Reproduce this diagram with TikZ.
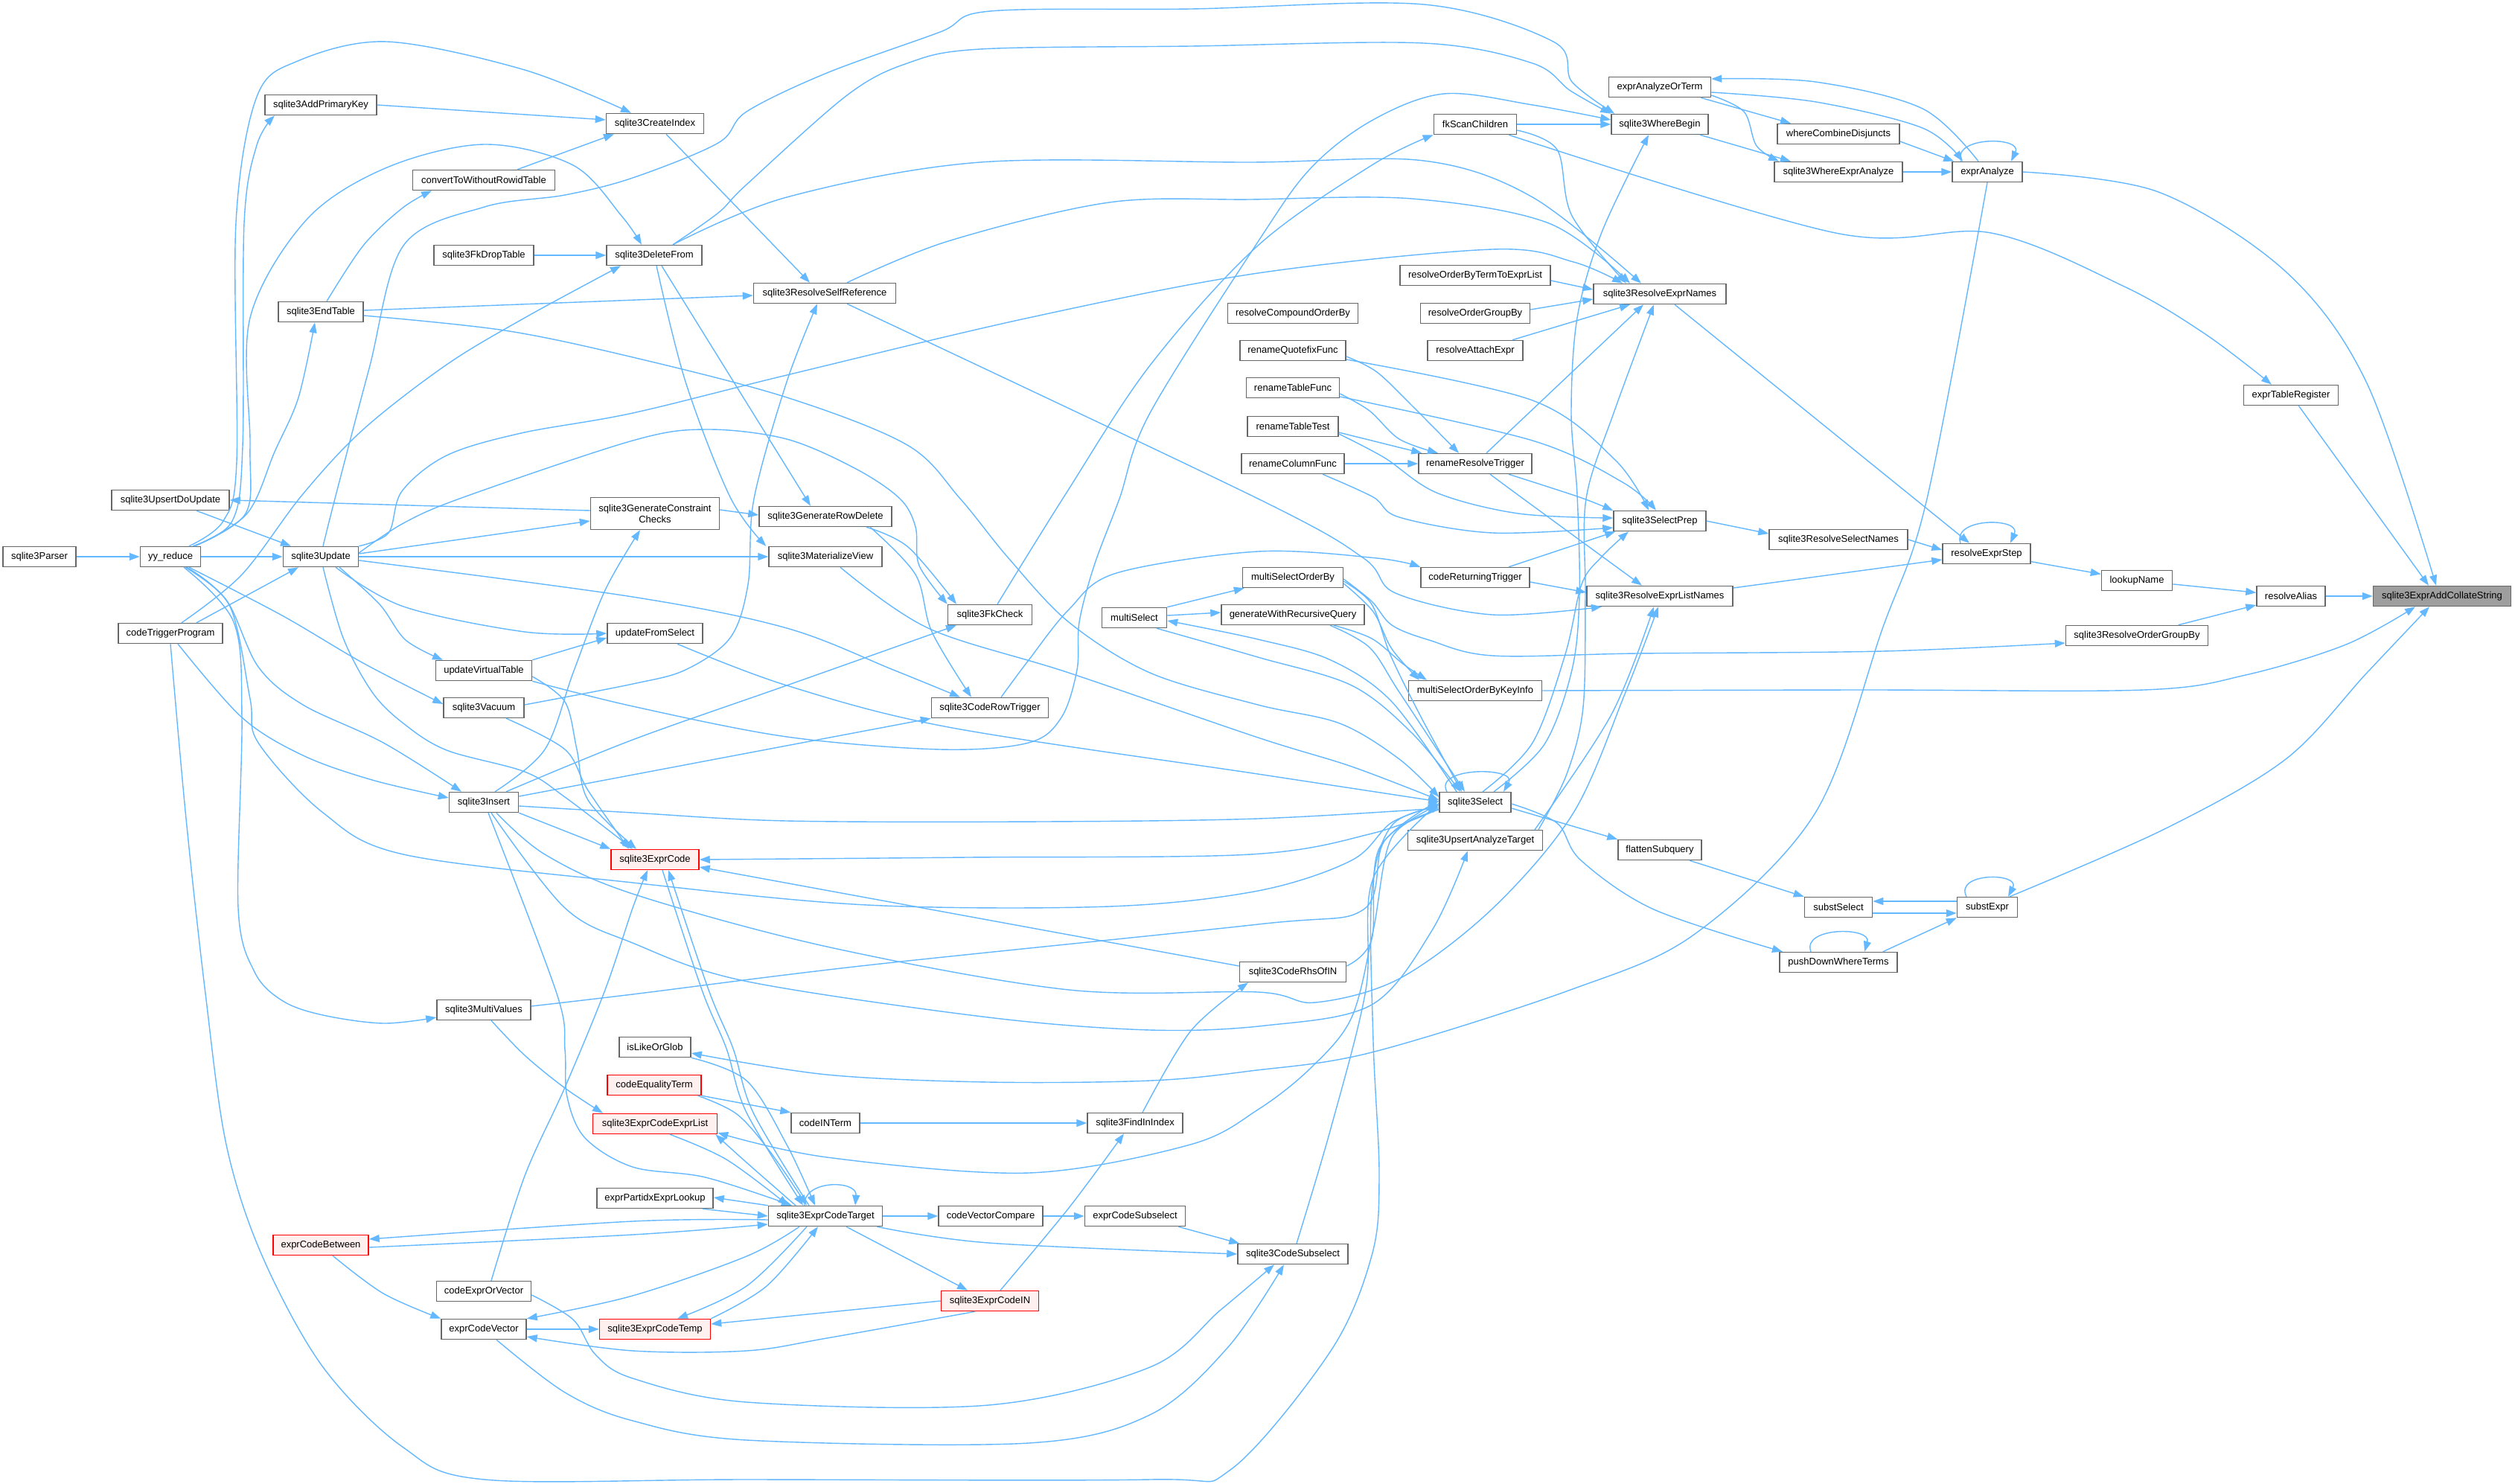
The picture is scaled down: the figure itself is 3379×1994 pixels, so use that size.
\documentclass[tikz,border=0pt]{standalone}
\usepackage{fontspec}
\setmainfont{Liberation Sans}
\usetikzlibrary{arrows.meta}
\definecolor{edgeblue}{HTML}{63B8FF}
\definecolor{boxgray}{HTML}{666666}
\newcommand\mknode[6][box]{\node[#1,minimum width=#5pt] (#2) at (#3,#4) {#6};}
\newcommand\ED[1]{\draw[edg] plot[smooth,tension=0.55] coordinates {#1};}
\tikzset{
 box/.style={draw=boxgray,fill=white,line width=1.5pt,minimum height=27pt,inner sep=0pt,font=\fontsize{13}{15}\selectfont,text=black},
 redbox/.style={box,draw=red,fill=red!6},
 rootbox/.style={box,fill=black!38},
 edg/.style={draw=edgeblue,line width=1.4pt,-{Triangle[length=14pt,width=10pt]}},
}
\begin{document}
\begin{tikzpicture}[x=1pt,y=-1pt]
\fill[white] (0,0) rectangle (3379,1994);
\useasboundingbox (0,0) rectangle (3379,1994);
% ---------------- nodes ----------------
\mknode[rootbox]{root}{3281}{801}{185}{sqlite3ExprAddCollateString}
\mknode{rA}{3078}{801}{92}{resolveAlias}
\mknode{lN}{2871}{780}{95}{lookupName}
\mknode{sROGB}{2871}{854}{191}{sqlite3ResolveOrderGroupBy}
\mknode{eTR}{3078}{531}{127}{exprTableRegister}
\mknode{eA}{2670}{231}{94}{exprAnalyze}
\mknode{rES}{2669}{744}{118}{resolveExprStep}
\mknode{sE}{2670}{1219}{81}{substExpr}
\mknode{eAOT}{2230}{117}{137}{exprAnalyzeOrTerm}
\mknode{wCD}{2470}{180}{164}{whereCombineDisjuncts}
\mknode{sWEA}{2470}{231}{172}{sqlite3WhereExprAnalyze}
\mknode{sWB}{2230}{167}{130}{sqlite3WhereBegin}
\mknode{fkSC}{1982}{167}{111}{fkScanChildren}
\mknode{sRE}{2230}{395}{178}{sqlite3ResolveExprNames}
\mknode{rOBT}{1982}{370}{202}{resolveOrderByTermToExprList}
\mknode{rCOB}{1737}{421}{175}{resolveCompoundOrderBy}
\mknode{rOGB}{1982}{421}{147}{resolveOrderGroupBy}
\mknode{rAE}{1982}{471}{128}{resolveAttachExpr}
\mknode{rQF}{1737}{471}{142}{renameQuotefixFunc}
\mknode{rTF}{1737}{521}{125}{renameTableFunc}
\mknode{rTT}{1737}{573}{122}{renameTableTest}
\mknode{rCF}{1737}{623}{138}{renameColumnFunc}
\mknode{rRT}{1982}{623}{152}{renameResolveTrigger}
\mknode{sSP}{2230}{700}{124}{sqlite3SelectPrep}
\mknode{sRSN}{2470}{725}{186}{sqlite3ResolveSelectNames}
\mknode{cRT}{1982}{776}{146}{codeReturningTrigger}
\mknode{sRELN}{2230}{801}{196}{sqlite3ResolveExprListNames}
\mknode{mSOB}{1737}{776}{135}{multiSelectOrderBy}
\mknode{gWRQ}{1737}{826}{192}{generateWithRecursiveQuery}
\mknode{mS}{1524}{830}{87}{multiSelect}
\mknode{mSOBKI}{1982}{928}{179}{multiSelectOrderByKeyInfo}
\mknode{sSel}{1982}{1078}{96}{sqlite3Select}
\mknode{sUAT}{1982}{1129}{181}{sqlite3UpsertAnalyzeTarget}
\mknode{fS}{2230}{1142}{112}{flattenSubquery}
\mknode{sSub}{2470}{1219}{91}{substSelect}
\mknode{pDWT}{2470}{1293}{158}{pushDownWhereTerms}
\mknode{sCRIN}{1737}{1306}{143}{sqlite3CodeRhsOfIN}
\mknode{sCI}{880}{166}{131}{sqlite3CreateIndex}
\mknode{sAPK}{431}{141}{150}{sqlite3AddPrimaryKey}
\mknode{cTWRT}{650}{242}{191}{convertToWithoutRowidTable}
\mknode{sFDT}{650}{343}{134}{sqlite3FkDropTable}
\mknode{sDF}{879}{343}{128}{sqlite3DeleteFrom}
\mknode{sET}{431}{419}{114}{sqlite3EndTable}
\mknode{sRSR}{1108}{394}{191}{sqlite3ResolveSelfReference}
\mknode{sUDU}{229}{672}{158}{sqlite3UpsertDoUpdate}
\mknode[box,minimum height=43pt,align=center]{sGCC}{880}{690}{173}{sqlite3GenerateConstraint\\Checks}
\mknode{sGRD}{1109}{694}{178}{sqlite3GenerateRowDelete}
\mknode{sMV}{1109}{748}{152}{sqlite3MaterializeView}
\mknode{sPar}{53}{748}{98}{sqlite3Parser}
\mknode{yy}{229}{748}{81}{yy\_reduce}
\mknode{sUpd}{431}{748}{101}{sqlite3Update}
\mknode{cTP}{229}{851}{140}{codeTriggerProgram}
\mknode{uFS}{880}{851}{128}{updateFromSelect}
\mknode{uVT}{650}{901}{129}{updateVirtualTable}
\mknode{sVac}{650}{951}{108}{sqlite3Vacuum}
\mknode{sFKC}{1330}{826}{113}{sqlite3FkCheck}
\mknode{sCRT}{1330}{951}{157}{sqlite3CodeRowTrigger}
\mknode{sIns}{650}{1078}{93}{sqlite3Insert}
\mknode[redbox]{sEC}{880}{1155}{118}{sqlite3ExprCode}
\mknode{sMVal}{650}{1357}{126}{sqlite3MultiValues}
\mknode{iLOG}{880}{1407}{96}{isLikeOrGlob}
\mknode[redbox]{cET}{879}{1458}{126}{codeEqualityTerm}
\mknode[redbox]{sECEL}{880}{1510}{167}{sqlite3ExprCodeExprList}
\mknode{cINT}{1109}{1509}{92}{codeINTerm}
\mknode{sFII}{1525}{1509}{128}{sqlite3FindInIndex}
\mknode{ePEL}{880}{1610}{156}{exprPartidxExprLookup}
\mknode{sECT}{1109}{1634}{153}{sqlite3ExprCodeTarget}
\mknode{cVC}{1331}{1634}{140}{codeVectorCompare}
\mknode{eCS}{1525}{1634}{135}{exprCodeSubselect}
\mknode{sCS}{1737}{1685}{148}{sqlite3CodeSubselect}
\mknode[redbox]{eCB}{431}{1673}{128}{exprCodeBetween}
\mknode{cEOV}{650}{1735}{127}{codeExprOrVector}
\mknode{eCV}{650}{1786}{114}{exprCodeVector}
\mknode[redbox]{sECTemp}{880}{1786}{149}{sqlite3ExprCodeTemp}
\mknode[redbox]{sECIN}{1330}{1748}{131}{sqlite3ExprCodeIN}
% ---------------- edges: root region ----------------
\draw[edg] (rA.east) -- (root.west);
\draw[edg] (lN) -- (rA);
\draw[edg] (sROGB) -- (rA);
\draw[edg] (rES) -- (lN);
\draw[edg] (eTR) -- ([shift={(-18,0)}]root.north);
\ED{(eA.east) (2900,258) (3071,365) (3180,515) ([shift={(-8,0)}]root.north)}
\ED{(mSOBKI.east) (2500,927) (2880,927) (3017,907) (3152,866) ([shift={(-36,0)}]root.south)}
\ED{([shift={(30,0)}]sE.north) (2908,1114) (3071,1020) (3180,904) ([shift={(-17,0)}]root.south)}
% exprAnalyze group
\ED{([shift={(0,7)}]eAOT.east) (2440,137) (2583,172) ([shift={(-33,0)}]eA.north)}
\ED{([shift={(-12,0)}]eA.north) (2583,146) (2439,110) ([shift={(0,-11)}]eAOT.east)}
\draw[edg] ([shift={(55,0)}]eAOT.south) -- ([shift={(-64,0)}]wCD.north);
\ED{([shift={(0,11)}]eAOT.east) (2343,150) (2360,196) ([shift={(-80,0)}]sWEA.north)}
\draw[edg] ([shift={(0,10)}]wCD.east) -- ([shift={(3,0)}]eA.north west);
\draw[edg] (sWEA) -- (eA);
\draw[edg] ([shift={(-35,0)}]eA.north) .. controls (2622,183) and (2718,183) .. ([shift={(32,0)}]eA.north);
\draw[edg] ([shift={(54,0)}]sWB.south) -- ([shift={(-64,0)}]sWEA.north);
\draw[edg] (fkSC) -- (sWB);
\ED{([shift={(0,8)}]fkSC.east) (2092,201) (2112,290) ([shift={(-45,0)}]sRE.north)}
\ED{([shift={(45,0)}]fkSC.south) (2466,313) (2675,313) (2854,385) (2963,449) ([shift={(-26,0)}]eTR.north)}
\ED{(eA.south) (2589,670) (2529,845) (2439,1092) (2277,1255) (2110,1330) (1843,1414) (1680,1439) (1545,1452) (1328,1454) (1111,1444) ([shift={(0,8)}]iLOG.east)}
% sqlite3ResolveExprNames callers
\draw[edg] ([shift={(0,7)}]rOBT.east) -- ([shift={(0,-6)}]sRE.west);
\draw[edg] ([shift={(0,-5)}]rOGB.east) -- ([shift={(0,7)}]sRE.west);
\draw[edg] ([shift={(50,0)}]rAE.north) -- ([shift={(-40,0)}]sRE.south);
\draw[edg] ([shift={(15,0)}]rRT.north) -- ([shift={(-22,0)}]sRE.south);
\ED{([shift={(85,0)}]sUAT.north) (2105,1040) (2127,950) (2130,800) (2131,670) (2168,555) ([shift={(-8,0)}]sRE.south)}
\ED{([shift={(25,0)}]sDF.north) (1057,265) (1317,218) (1680,218) (1913,216) (2059,265) ([shift={(-25,0)}]sRE.north)}
\ED{([shift={(30,0)}]sRSR.north) (1274,324) (1490,272) (1680,268) (1897,267) (2081,300) ([shift={(-40,0)}]sRE.north)}
\ED{(sUpd.north east) (522,716) (540,660) (600,612) (700,582) (850,555) (1057,504) (1382,427) (1690,367) (2005,335) (2114,352) ([shift={(-50,0)}]sRE.north)}
% select prep / expr list names
\draw[edg] (sSP.east) -- ([shift={(0,-8)}]sRSN.west);
\draw[edg] (sRSN.east) -- ([shift={(0,-5)}]rES.west);
\draw[edg] ([shift={(0,-11)}]sRELN.east) -- ([shift={(0,8)}]rES.west);
\draw[edg] ([shift={(20,0)}]sRE.south) -- ([shift={(-23,0)}]rES.north);
\draw[edg] ([shift={(-35,0)}]rES.north) .. controls (2622,695) and (2716,695) .. ([shift={(32,0)}]rES.north);
\draw[edg] ([shift={(45,0)}]cRT.north) -- ([shift={(3,0)}]sSP.south west);
\draw[edg] ([shift={(0,6)}]cRT.east) -- ([shift={(0,-5)}]sRELN.west);
\ED{([shift={(20,0)}]rRT.south) (2049,672) ([shift={(-24,0)}]sRELN.north)}
\ED{([shift={(45,0)}]rRT.south) (2122,668) ([shift={(0,-14)}]sSP.west)}
\ED{([shift={(0,12)}]rQF.east) (2059,538) (2170,618) ([shift={(-15,0)}]sSP.north)}
\ED{([shift={(0,12)}]rTF.east) (2059,592) (2180,648) ([shift={(-5,0)}]sSP.north)}
\ED{([shift={(0,10)}]rTT.east) (1860,615) (1930,662) (2040,690) ([shift={(0,-4)}]sSP.west)}
\ED{([shift={(40,0)}]rCF.south) (1845,668) (1880,695) (2005,716) ([shift={(0,9)}]sSP.west)}
\ED{([shift={(0,8)}]rQF.east) (1850,500) (1900,548) ([shift={(-22,0)}]rRT.north)}
\ED{([shift={(0,8)}]rTF.east) (1840,552) (1880,590) ([shift={(-50,0)}]rRT.north)}
\draw[edg] ([shift={(0,8)}]rTT.east) -- ([shift={(5,0)}]rRT.north west);
\draw[edg] (rCF) -- (rRT);
\ED{([shift={(30,0)}]sRSR.south) (1690,670) (1832,750) (1875,797) (2005,826) ([shift={(-78,0)}]sRELN.south)}
\ED{([shift={(80,0)}]sUAT.north) (2165,960) ([shift={(-8,0)}]sRELN.south)}
\ED{([shift={(17,0)}]sIns.south) (732,1148) (850,1201) (1111,1272) (1436,1330) (1690,1333) (1767,1347) (1880,1315) (2005,1221) (2114,1092) (2184,930) ([shift={(-2,0)}]sRELN.south)}
\ED{([shift={(10,0)}]sIns.south) (759,1220) (850,1267) (1000,1318) (1328,1367) (1545,1384) (1700,1378) (1843,1350) (1924,1250) ([shift={(-10,0)}]sUAT.south)}
% multiSelect group
\draw[edg] (mS.north east) -- ([shift={(3,0)}]mSOB.south west);
\draw[edg] ([shift={(0,-3)}]mS.east) -- ([shift={(0,-3)}]gWRQ.west);
\ED{([shift={(-25,0)}]sSel.north) (1870,943) (1788,887) (1690,859) ([shift={(0,4)}]mS.east)}
\ED{([shift={(30,0)}]mS.south) (1690,883) (1816,921) (1897,985) ([shift={(-20,0)}]sSel.north)}
\ED{([shift={(0,5)}]mSOB.east) (1843,812) (1868,880) (1910,965) ([shift={(-18,0)}]sSel.north)}
\ED{([shift={(50,0)}]gWRQ.south) (1840,870) (1880,930) ([shift={(-14,0)}]sSel.north)}
\ED{([shift={(0,8)}]mSOB.east) (1845,822) (1870,872) ([shift={(-75,0)}]mSOBKI.north)}
\ED{([shift={(55,0)}]gWRQ.south) (1843,858) (1885,892) ([shift={(-65,0)}]mSOBKI.north)}
\ED{([shift={(0,2)}]mSOB.east) (1843,808) (1870,840) (1920,860) (2005,881) (2200,878) (2529,875) ([shift={(0,10)}]sROGB.west)}
\draw[edg] ([shift={(-38,0)}]sSel.north) .. controls (1925,1030) and (2040,1030) .. ([shift={(38,0)}]sSel.north);
\draw[edg] ([shift={(0,8)}]sSel.east) -- (fS.north west);
\ED{([shift={(0,2)}]sSel.east) (2092,1106) (2124,1156) (2222,1222) ([shift={(-75,0)}]pDWT.north)}
\draw[edg] ([shift={(40,0)}]fS.south) -- (sSub.north west);
\draw[edg] ([shift={(0,-8)}]sE.west) -- ([shift={(0,-8)}]sSub.east);
\draw[edg] ([shift={(0,8)}]sSub.east) -- ([shift={(0,8)}]sE.west);
\draw[edg] ([shift={(-20,0)}]pDWT.north east) -- (sE.south west);
\draw[edg] ([shift={(-28,0)}]sE.north) .. controls (2625,1172) and (2715,1172) .. ([shift={(28,0)}]sE.north);
\draw[edg] ([shift={(-37,0)}]pDWT.north) .. controls (2420,1245) and (2515,1245) .. ([shift={(35,0)}]pDWT.north);
\ED{([shift={(10,0)}]sSel.north) (2059,998) (2103,879) (2125,785) (2152,748) ([shift={(-42,0)}]sSP.south)}
\ED{([shift={(25,0)}]sSel.north) (2075,1000) (2112,900) (2122,800) (2119,665) (2111,555) (2119,427) (2152,312) ([shift={(-15,0)}]sWB.south)}
% left top group
\draw[edg] (sPar) -- (yy);
\draw[edg] (yy) -- (sUpd);
\ED{([shift={(25,0)}]yy.north) (300,700) (318,620) (317,299) (345,130) (400,82) (520,56) (705,94) ([shift={(-32,0)}]sCI.north)}
\ED{([shift={(30,0)}]yy.north) (312,700) (326,600) (328,300) (345,195) ([shift={(-62,0)}]sAPK.south)}
\ED{([shift={(33,0)}]yy.north) (332,690) (369,607) (401,534) ([shift={(-8,0)}]sET.south)}
\ED{([shift={(32,0)}]yy.north) (330,690) (336,600) (336,427) (412,295) (520,225) (651,194) (770,222) (835,290) ([shift={(-17,0)}]sDF.north)}
\ED{([shift={(15,0)}]cTP.north) (325,772) (406,665) (488,577) (600,490) (705,427) ([shift={(-45,0)}]sDF.south)}
\draw[edg] ([shift={(35,0)}]cTP.north) -- ([shift={(-30,0)}]sUpd.south);
\ED{([shift={(10,0)}]cTP.south) (325,964) (407,1015) (500,1048) ([shift={(0,-6)}]sIns.west)}
\ED{(cTP.south) (250,1100) (276,1335) (304,1538) (352,1687) (434,1837) (542,1945) (651,1988) (1000,1988) (1545,1988) (1653,1975) (1788,1815) (1843,1687) (1853,1580) (1845,1400) (1843,1200) (1870,1109) ([shift={(0,6)}]sSel.west)}
\draw[edg] (sAPK.east) -- ([shift={(0,-5)}]sCI.west);
\draw[edg] ([shift={(45,0)}]cTWRT.north) -- ([shift={(-55,0)}]sCI.south);
\ED{([shift={(8,0)}]sET.north) (488,330) (540,280) ([shift={(-70,0)}]cTWRT.south)}
\draw[edg] (sFDT) -- (sDF);
\draw[edg] ([shift={(0,-2)}]sET.east) -- ([shift={(0,3)}]sRSR.west);
\ED{([shift={(0,5)}]sET.east) (678,444) (850,480) (1057,534) (1219,598) (1290,670) (1355,750) (1436,836) (1545,904) (1690,947) (1800,972) (1880,1020) ([shift={(0,-7)}]sSel.west)}
\draw[edg] ([shift={(15,0)}]sCI.south) -- ([shift={(-20,0)}]sRSR.north);
\ED{([shift={(25,0)}]sDF.north) (965,286) (1003,248) (1138,128) (1219,85) (1317,66) (1600,62) (1913,58) (2059,85) (2110,122) (sWB.north west)}
\ED{([shift={(3,0)}]sUpd.north) (450,670) (496,495) (542,330) (651,278) (759,262) (850,239) (965,192) (1003,150) (1111,98) (1263,43) (1330,15) (1600,12) (1913,6) (2087,56) (2112,110) ([shift={(5,0)}]sWB.north west)}
\ED{([shift={(0,-5)}]sUpd.east) (542,703) (623,668) (850,592) (949,577) (1057,590) (1150,630) (1209,670) (1230,708) (1235,760) (sFKC.north west)}
\draw[edg] ([shift={(0,-4)}]sUpd.east) -- ([shift={(0,10)}]sGCC.west);
\draw[edg] (sUpd) -- (sMV);
\ED{([shift={(20,0)}]sUpd.south) (542,815) (705,849) (uFS.west)}
\ED{([shift={(25,0)}]sUpd.south) (510,812) (545,860) ([shift={(-55,0)}]uVT.north)}
\ED{([shift={(0,5)}]sUpd.east) (850,802) (1057,844) (1200,900) ([shift={(-40,0)}]sCRT.north)}
\ED{([shift={(3,0)}]sUpd.south) (461,857) (500,930) (542,972) (600,1008) (705,1037) (759,1071) ([shift={(-30,0)}]sEC.north)}
\draw[edg] ([shift={(35,0)}]sUDU.south) -- ([shift={(-40,0)}]sUpd.north);
\draw[edg] ([shift={(0,-4)}]sGCC.west) -- (sUDU.east);
\draw[edg] ([shift={(0,-5)}]sGCC.east) -- ([shift={(0,-2)}]sGRD.west);
\ED{([shift={(15,0)}]sIns.north) (732,1007) (770,904) (813,793) ([shift={(-20,0)}]sGCC.south)}
\draw[edg] ([shift={(10,0)}]sDF.south) -- ([shift={(-20,0)}]sGRD.north);
\ED{([shift={(3,0)}]sDF.south) (921,513) (981,668) ([shift={(-3,0)}]sMV.north west)}
\ED{([shift={(20,0)}]sMV.south) (1247,844) (1436,904) (1690,991) (1816,1030) ([shift={(0,-3)}]sSel.west)}
\ED{([shift={(30,0)}]uFS.south) (1057,921) (1274,977) (1690,1040) ([shift={(0,-1)}]sSel.west)}
\draw[edg] (uVT.north east) -- ([shift={(0,6)}]uFS.west);
\ED{(uVT.south east) (850,949) (1057,990) (1263,1007) (1382,998) (1426,964) (1447,900) (1450,836) (1470,760) (1504,670) (1545,555) (1690,325) (1761,226) (1843,162) (1940,126) (2059,141) ([shift={(0,-6)}]sWB.west)}
\ED{([shift={(0,8)}]uVT.east) (759,943) (775,1007) (790,1075) ([shift={(-25,0)}]sEC.north)}
\ED{([shift={(25,0)}]yy.south) (379,827) (488,891) ([shift={(0,-5)}]sVac.west)}
\ED{([shift={(0,-4)}]sVac.east) (850,919) (921,900) (981,857) (1005,785) (1013,670) (1057,513) ([shift={(-10,0)}]sRSR.south)}
\ED{([shift={(30,0)}]sVac.south) (759,1007) (790,1062) ([shift={(-35,0)}]sEC.north)}
\ED{([shift={(20,0)}]yy.south) (304,806) (347,896) (407,947) (515,998) ([shift={(-30,0)}]sIns.north)}
\ED{([shift={(22,0)}]yy.south) (309,815) (336,939) (347,998) (434,1092) (542,1148) (850,1186) (1165,1216) (1490,1218) (1690,1197) (1816,1156) (1870,1105) ([shift={(0,4)}]sSel.west)}
\ED{([shift={(18,0)}]yy.south) (314,836) (325,964) (320,1220) (342,1306) (380,1345) (434,1364) (515,1375) ([shift={(0,10)}]sMVal.west)}
\ED{([shift={(0,5)}]sIns.east) (850,1092) (1057,1103) (1400,1104) (1690,1100) ([shift={(0,8)}]sSel.west)}
\draw[edg] (sIns.south east) -- (sEC.north west);
\ED{([shift={(30,0)}]sIns.north) (850,994) (1057,921) ([shift={(-45,0)}]sFKC.south)}
\draw[edg] ([shift={(0,-8)}]sIns.east) -- (sCRT.south west);
\ED{([shift={(6,0)}]sIns.south) (748,1335) (759,1410) (762,1474) (786,1529) (850,1568) (948,1582) ([shift={(-45,0)}]sECT.north)}
% middle / lower group
\ED{([shift={(55,0)}]sGRD.south) (1220,735) ([shift={(-45,0)}]sFKC.north)}
\ED{([shift={(60,0)}]sGRD.south) (1230,772) (1252,849) ([shift={(-25,0)}]sCRT.north)}
\ED{([shift={(10,0)}]sFKC.north) (1431,665) (1545,491) (1690,330) (1843,222) (fkSC.south west)}
\ED{([shift={(15,0)}]sCRT.north) (1382,887) (1436,819) (1500,770) (1690,741) (1850,750) (cRT.north west)}
\ED{([shift={(10,0)}]sEC.south) (943,1330) (976,1409) (1003,1495) ([shift={(-30,0)}]sECT.north)}
\ED{([shift={(-22,0)}]sECT.north) (1012,1495) (985,1409) (952,1330) ([shift={(18,0)}]sEC.south)}
\ED{([shift={(10,0)}]cEOV.north) (705,1580) (759,1461) (813,1330) (850,1220) ([shift={(-10,0)}]sEC.south)}
\ED{([shift={(0,9)}]sSel.west) (1843,1120) (1680,1148) (1300,1152) (sEC.east)}
\draw[edg] ([shift={(0,-8)}]sCRIN.west) -- ([shift={(0,10)}]sEC.east);
\ED{([shift={(0,-8)}]sCRIN.east) (1843,1262) (1853,1140) ([shift={(0,-2)}]sSel.west)}
\ED{([shift={(10,0)}]sFII.north) (1600,1385) ([shift={(-60,0)}]sCRIN.south)}
\ED{([shift={(5,0)}]sCS.north) (1788,1516) (1835,1330) (1845,1180) ([shift={(0,1)}]sSel.west)}
\ED{([shift={(0,-5)}]sMVal.east) (850,1336) (1165,1297) (1690,1242) (1832,1222) (1860,1130) ([shift={(0,3)}]sSel.west)}
\ED{([shift={(10,0)}]sMVal.south) (705,1418) (759,1462) ([shift={(-70,0)}]sECEL.north)}
\ED{([shift={(0,10)}]sSel.west) (1870,1125) (1845,1250) (1816,1367) (1761,1435) (1690,1491) (1599,1538) (1382,1576) (1111,1555) ([shift={(0,12)}]sECEL.east)}
\ED{(iLOG.south east) (1003,1452) (1057,1538) ([shift={(-14,0)}]sECT.north)}
\draw[edg] (cET.south east) -- (cINT.north west);
\ED{([shift={(-5,0)}]cET.south east) (990,1497) (1035,1548) ([shift={(-25,0)}]sECT.north)}
\ED{([shift={(20,0)}]sECEL.south) (976,1558) ([shift={(-50,0)}]sECT.north)}
\ED{([shift={(-40,0)}]sECT.north) (1003,1562) ([shift={(-3,0)}]sECEL.south east)}
\draw[edg] ([shift={(-28,0)}]sECT.north) .. controls (1078,1585) and (1152,1585) .. ([shift={(40,0)}]sECT.north);
\draw[edg] (cINT) -- (sFII);
\draw[edg] (sECT.north west) -- ([shift={(0,-1)}]ePEL.east);
\draw[edg] ([shift={(-15,0)}]ePEL.south east) -- (sECT.west);
\ED{([shift={(0,5)}]sECT.west) (850,1641) ([shift={(0,-8)}]eCB.east)}
\ED{([shift={(0,3)}]eCB.east) (850,1659) ([shift={(0,11)}]sECT.west)}
\draw[edg] (sECT) -- (cVC);
\draw[edg] (cVC) -- (eCS);
\draw[edg] ([shift={(-10,0)}]eCS.south east) -- ([shift={(3,0)}]sCS.north west);
\ED{([shift={(-8,0)}]sECT.south east) (1328,1670) (sCS.west)}
\draw[edg] ([shift={(28,0)}]sECT.south) -- ([shift={(-30,0)}]sECIN.north);
\ED{([shift={(14,0)}]sECIN.north) (1436,1623) ([shift={(-15,0)}]sFII.south)}
\draw[edg] (sECIN.west) -- ([shift={(0,-7)}]sECTemp.east);
\ED{([shift={(-20,0)}]sECIN.south) (1111,1798) (1003,1815) (850,1815) ([shift={(0,10)}]eCV.east)}
\ED{([shift={(-25,0)}]sECT.south) (1003,1728) ([shift={(30,0)}]sECTemp.north)}
\ED{(sECTemp.north east) (1030,1728) ([shift={(-10,0)}]sECT.south)}
\ED{([shift={(-35,0)}]sECT.south) (1003,1688) (850,1741) (eCV.north east)}
\ED{([shift={(16,0)}]eCB.south) (515,1738) (eCV.north west)}
\draw[edg] (eCV) -- (sECTemp);
\ED{([shift={(17,0)}]eCV.south) (759,1871) (850,1909) (1003,1935) (1382,1939) (1545,1901) (1650,1810) ([shift={(-12,0)}]sCS.south)}
\ED{([shift={(0,5)}]cEOV.east) (770,1773) (800,1820) (850,1852) (1003,1884) (1328,1888) (1545,1837) (1640,1760) ([shift={(-25,0)}]sCS.south)}
\end{tikzpicture}
\end{document}
